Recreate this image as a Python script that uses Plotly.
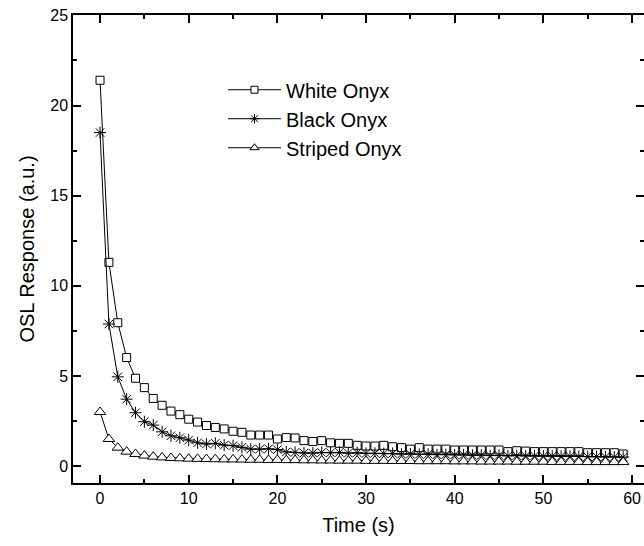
import plotly.graph_objects as go

time_s = list(range(60))

white_onyx = [21.4, 11.3, 7.95, 6.02, 4.87, 4.35, 3.75, 3.37, 3.05, 2.85,
              2.6, 2.44, 2.25, 2.14, 2.06, 1.93, 1.87, 1.72, 1.72, 1.72,
              1.5, 1.58, 1.56, 1.41, 1.36, 1.41, 1.29, 1.26, 1.26, 1.15,
              1.11, 1.11, 1.15, 1.07, 1.02, 0.94, 1.02, 0.94, 0.94, 0.94,
              0.89, 0.89, 0.89, 0.89, 0.89, 0.89, 0.8, 0.85, 0.83, 0.8,
              0.8, 0.8, 0.8, 0.8, 0.8, 0.74, 0.74, 0.74, 0.74, 0.67]

black_onyx = [18.5, 7.88, 4.95, 3.71, 2.96, 2.46, 2.27, 1.9, 1.68, 1.57,
              1.44, 1.29, 1.22, 1.26, 1.16, 1.13, 1.04, 0.94, 0.94, 0.96,
              0.91, 0.78, 0.76, 0.72, 0.72, 0.75, 0.74, 0.76, 0.72, 0.74,
              0.7, 0.71, 0.69, 0.7, 0.66, 0.67, 0.65, 0.66, 0.63, 0.64,
              0.62, 0.62, 0.6, 0.61, 0.58, 0.59, 0.57, 0.58, 0.56, 0.56,
              0.55, 0.55, 0.54, 0.54, 0.53, 0.52, 0.52, 0.51, 0.5, 0.5]

striped_onyx = [3.0, 1.5, 1.02, 0.8, 0.67, 0.58, 0.52, 0.48, 0.45, 0.43,
                0.41, 0.4, 0.39, 0.38, 0.37, 0.37, 0.36, 0.35, 0.35, 0.34,
                0.34, 0.33, 0.33, 0.32, 0.32, 0.31, 0.31, 0.3, 0.3, 0.3,
                0.29, 0.29, 0.29, 0.28, 0.28, 0.28, 0.27, 0.27, 0.27, 0.27,
                0.26, 0.26, 0.26, 0.25, 0.25, 0.25, 0.25, 0.24, 0.24, 0.24,
                0.24, 0.23, 0.23, 0.23, 0.23, 0.22, 0.22, 0.22, 0.22, 0.22]

series_names = ["White Onyx", "Black Onyx", "Striped Onyx"]
series_values = [white_onyx, black_onyx, striped_onyx]
symbols = ["square", "asterisk-open", "triangle-up"]
fills = ["white", "black", "white"]
sizes = [8, 10, 10]
legend_sizes = [7, 8, 8]

FONT = "Arial, Liberation Sans, sans-serif"
fig = go.Figure()

for name, vals, sym, fill, sz, lsz in zip(series_names, series_values, symbols, fills, sizes, legend_sizes):
    fig.add_trace(go.Scatter(
        x=time_s, y=vals, mode="lines+markers", name=name, showlegend=False,
        line=dict(color="black", width=1),
        marker=dict(symbol=sym, size=sz, color=fill, line=dict(color="black", width=1)),
    ))
    # legend entry with smaller marker
    fig.add_trace(go.Scatter(
        x=[None], y=[None], mode="lines+markers", name=name, showlegend=True,
        line=dict(color="black", width=1),
        marker=dict(symbol=sym, size=lsz, color=fill, line=dict(color="black", width=1)),
    ))

# right-side mirrored ticks without line
fig.add_trace(go.Scatter(x=[None], y=[None], yaxis="y2", showlegend=False))

yrange = [-0.94, 25.02]
fig.update_layout(
    width=644, height=546,
    margin=dict(l=73, r=0, t=15, b=63),
    paper_bgcolor="white", plot_bgcolor="white",
    font=dict(family=FONT, color="black", size=16),
    showlegend=True,
    legend=dict(x=0.2627, y=0.882, xanchor="left", yanchor="top",
                bgcolor="rgba(0,0,0,0)", font=dict(size=20, family=FONT),
                itemwidth=53, tracegroupgap=0),
    xaxis=dict(
        range=[-3.05, 61.35], dtick=10, tick0=0,
        showgrid=False, zeroline=False,
        showline=True, linecolor="black", linewidth=1.5, mirror="ticks",
        ticks="inside", ticklen=8, tickwidth=1.5, tickcolor="black",
        minor=dict(ticks="inside", dtick=5, tick0=0, ticklen=4, tickwidth=1.5, tickcolor="black"),
        tickfont=dict(size=16),
        title=dict(text="Time (s)", font=dict(size=20), standoff=12),
    ),
    yaxis=dict(
        range=yrange, dtick=5, tick0=0,
        showgrid=False, zeroline=False,
        showline=True, linecolor="black", linewidth=1.5, mirror=False,
        ticks="inside", ticklen=8, tickwidth=1.5, tickcolor="black",
        minor=dict(ticks="inside", dtick=2.5, tick0=0, ticklen=4, tickwidth=1.5, tickcolor="black"),
        tickfont=dict(size=16),
        title=dict(text="OSL Response (a.u.)", font=dict(size=20), standoff=10),
    ),
    yaxis2=dict(
        range=yrange, dtick=5, tick0=0, overlaying="y", side="right",
        showgrid=False, zeroline=False, showline=False, showticklabels=False,
        ticks="inside", ticklen=8, tickwidth=1.5, tickcolor="black",
        minor=dict(ticks="inside", dtick=2.5, tick0=0, ticklen=4, tickwidth=1.5, tickcolor="black"),
    ),
)

fig.write_html("out.html", config={"displayModeBar": False},
               post_script="document.body.style.margin='0px';")
